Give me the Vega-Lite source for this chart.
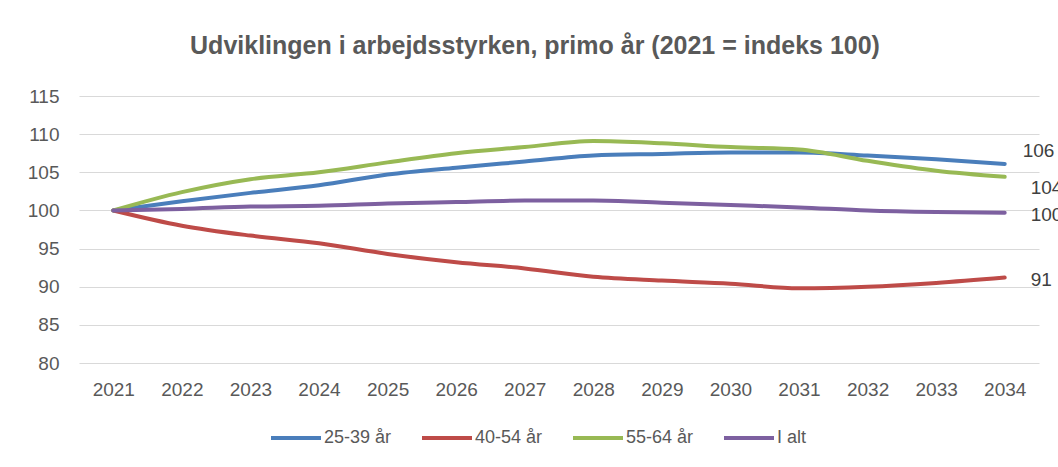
{
  "$schema": "https://vega.github.io/schema/vega-lite/v6.json",
  "autosize": "none",
  "width": 960,
  "height": 267,
  "padding": {"left": 79, "top": 96, "right": 19, "bottom": 104},
  "background": "white",
  "config": {
    "font": "Liberation Sans",
    "view": {"stroke": null},
    "axis": {"labelFont": "Liberation Sans", "labelColor": "#595959", "labelFontSize": 19, "domain": false, "ticks": false, "title": null, "gridColor": "#d9d9d9", "gridWidth": 1.2}
  },
  "title": {
    "text": "Udviklingen i arbejdsstyrken, primo år (2021 = indeks 100)",
    "font": "Liberation Sans",
    "fontSize": 25,
    "fontWeight": "bold",
    "color": "#595959",
    "anchor": "middle",
    "dx": -24,
    "offset": 28
  },
  "data": {
    "values": [
      {"year": "2021", "serie": "25-39 år", "v": 100},
      {"year": "2022", "serie": "25-39 år", "v": 101.2},
      {"year": "2023", "serie": "25-39 år", "v": 102.3},
      {"year": "2024", "serie": "25-39 år", "v": 103.3},
      {"year": "2025", "serie": "25-39 år", "v": 104.7},
      {"year": "2026", "serie": "25-39 år", "v": 105.6},
      {"year": "2027", "serie": "25-39 år", "v": 106.4},
      {"year": "2028", "serie": "25-39 år", "v": 107.2},
      {"year": "2029", "serie": "25-39 år", "v": 107.4},
      {"year": "2030", "serie": "25-39 år", "v": 107.6},
      {"year": "2031", "serie": "25-39 år", "v": 107.6},
      {"year": "2032", "serie": "25-39 år", "v": 107.2},
      {"year": "2033", "serie": "25-39 år", "v": 106.7},
      {"year": "2034", "serie": "25-39 år", "v": 106.1},
      {"year": "2021", "serie": "40-54 år", "v": 100},
      {"year": "2022", "serie": "40-54 år", "v": 98.0},
      {"year": "2023", "serie": "40-54 år", "v": 96.7},
      {"year": "2024", "serie": "40-54 år", "v": 95.7},
      {"year": "2025", "serie": "40-54 år", "v": 94.3},
      {"year": "2026", "serie": "40-54 år", "v": 93.2},
      {"year": "2027", "serie": "40-54 år", "v": 92.4},
      {"year": "2028", "serie": "40-54 år", "v": 91.3},
      {"year": "2029", "serie": "40-54 år", "v": 90.8},
      {"year": "2030", "serie": "40-54 år", "v": 90.4},
      {"year": "2031", "serie": "40-54 år", "v": 89.8},
      {"year": "2032", "serie": "40-54 år", "v": 90.0},
      {"year": "2033", "serie": "40-54 år", "v": 90.5},
      {"year": "2034", "serie": "40-54 år", "v": 91.2},
      {"year": "2021", "serie": "55-64 år", "v": 100},
      {"year": "2022", "serie": "55-64 år", "v": 102.4},
      {"year": "2023", "serie": "55-64 år", "v": 104.1},
      {"year": "2024", "serie": "55-64 år", "v": 105.0},
      {"year": "2025", "serie": "55-64 år", "v": 106.3},
      {"year": "2026", "serie": "55-64 år", "v": 107.5},
      {"year": "2027", "serie": "55-64 år", "v": 108.3},
      {"year": "2028", "serie": "55-64 år", "v": 109.1},
      {"year": "2029", "serie": "55-64 år", "v": 108.8},
      {"year": "2030", "serie": "55-64 år", "v": 108.3},
      {"year": "2031", "serie": "55-64 år", "v": 108.0},
      {"year": "2032", "serie": "55-64 år", "v": 106.5},
      {"year": "2033", "serie": "55-64 år", "v": 105.2},
      {"year": "2034", "serie": "55-64 år", "v": 104.4},
      {"year": "2021", "serie": "I alt", "v": 100},
      {"year": "2022", "serie": "I alt", "v": 100.2},
      {"year": "2023", "serie": "I alt", "v": 100.5},
      {"year": "2024", "serie": "I alt", "v": 100.6},
      {"year": "2025", "serie": "I alt", "v": 100.9},
      {"year": "2026", "serie": "I alt", "v": 101.1},
      {"year": "2027", "serie": "I alt", "v": 101.3},
      {"year": "2028", "serie": "I alt", "v": 101.3},
      {"year": "2029", "serie": "I alt", "v": 101.0},
      {"year": "2030", "serie": "I alt", "v": 100.7},
      {"year": "2031", "serie": "I alt", "v": 100.4},
      {"year": "2032", "serie": "I alt", "v": 100.0},
      {"year": "2033", "serie": "I alt", "v": 99.8},
      {"year": "2034", "serie": "I alt", "v": 99.7}
    ]
  },
  "encoding": {
    "x": {"field": "year", "type": "ordinal", "scale": {"type": "point", "padding": 0.5}, "axis": {"labelAngle": 0, "grid": false, "labelPadding": 17}},
    "y": {"field": "v", "type": "quantitative", "scale": {"domain": [80, 115], "nice": false, "zero": false}, "axis": {"values": [80, 85, 90, 95, 100, 105, 110, 115], "labelPadding": 20}}
  },
  "layer": [
    {
      "mark": {"type": "line", "strokeWidth": 4, "strokeCap": "round", "interpolate": "monotone"},
      "encoding": {
        "color": {
          "field": "serie", "type": "nominal",
          "scale": {"domain": ["25-39 år", "40-54 år", "55-64 år", "I alt"], "range": ["#4a7ebb", "#be4b48", "#98b954", "#7d60a0"]},
          "legend": {"title": null, "orient": "none", "legendX": 190, "legendY": 315, "direction": "horizontal", "symbolType": "stroke", "symbolSize": 2500, "symbolStrokeWidth": 4, "labelFont": "Liberation Sans", "labelFontSize": 18, "labelColor": "#595959", "labelOffset": 1, "columnPadding": 22}
        }
      }
    },
    {
      "transform": [{"filter": "datum.year == '2034' && datum.serie == '25-39 år'"}],
      "mark": {"type": "text", "align": "left", "baseline": "middle", "dx": 18, "dy": -13, "fontSize": 19, "color": "#404040"},
      "encoding": {"text": {"field": "v", "type": "quantitative", "format": ".0f"}}
    },
    {
      "transform": [{"filter": "datum.year == '2034' && datum.serie == '55-64 år'"}],
      "mark": {"type": "text", "align": "left", "baseline": "middle", "dx": 26, "dy": 11, "fontSize": 19, "color": "#404040"},
      "encoding": {"text": {"field": "v", "type": "quantitative", "format": ".0f"}}
    },
    {
      "transform": [{"filter": "datum.year == '2034' && (datum.serie == 'I alt' || datum.serie == '40-54 år')"}],
      "mark": {"type": "text", "align": "left", "baseline": "middle", "dx": 26, "dy": 2, "fontSize": 19, "color": "#404040"},
      "encoding": {"text": {"field": "v", "type": "quantitative", "format": ".0f"}}
    }
  ]
}
